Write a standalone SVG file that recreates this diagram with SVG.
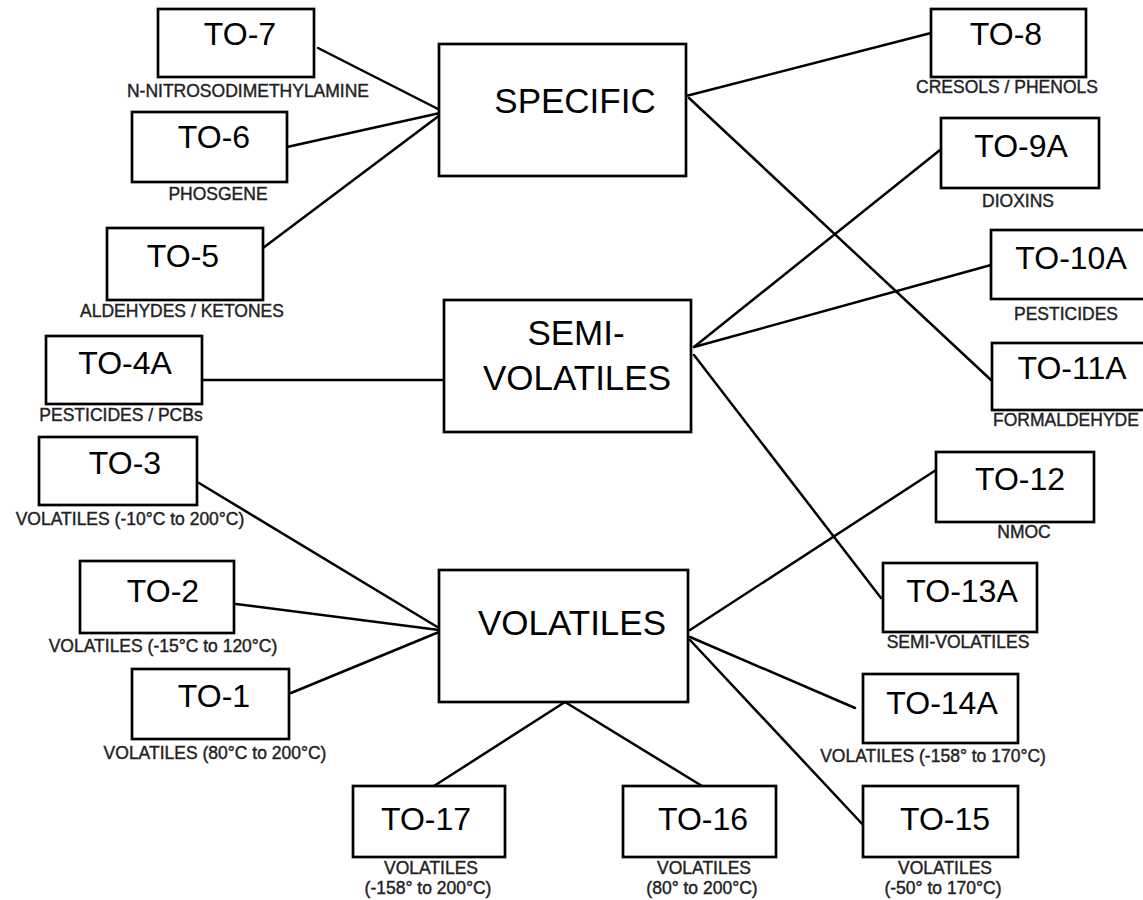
<svg xmlns="http://www.w3.org/2000/svg" width="1143" height="900" viewBox="0 0 1143 900">
<style>
.box{fill:#fff;stroke:#000;stroke-width:2.7}
.t{font-family:"Liberation Sans",Arial,sans-serif;font-size:32px;fill:#000;text-anchor:middle}
.m{font-family:"Liberation Sans",Arial,sans-serif;font-size:35px;fill:#000;text-anchor:middle}
.l{font-family:"Liberation Sans",Arial,sans-serif;font-size:17.5px;fill:#222;stroke:#222;stroke-width:0.4;text-anchor:middle}
#connectors line{stroke:#000;stroke-width:2.5;stroke-linecap:round}
</style>
<rect width="1143" height="900" fill="#fff"/>
<g id="connectors">
<line x1="318" y1="48" x2="440" y2="110"/>
<line x1="287" y1="147" x2="440" y2="113"/>
<line x1="263" y1="248" x2="440" y2="115"/>
<line x1="686" y1="96" x2="931" y2="33"/>
<line x1="689" y1="98" x2="991" y2="380"/>
<line x1="694" y1="347" x2="940" y2="150"/>
<line x1="694" y1="347" x2="991" y2="265"/>
<line x1="694" y1="355" x2="881" y2="598"/>
<line x1="203" y1="380" x2="443" y2="380"/>
<line x1="199" y1="483" x2="439" y2="628"/>
<line x1="236" y1="604" x2="439" y2="630"/>
<line x1="291" y1="693" x2="439" y2="632"/>
<line x1="690" y1="630" x2="936" y2="470"/>
<line x1="690" y1="637" x2="855" y2="708"/>
<line x1="690" y1="640" x2="865" y2="827"/>
<line x1="565" y1="702" x2="434" y2="786"/>
<line x1="565" y1="702" x2="702" y2="786"/>
</g>
<g id="specific"><rect class="box" x="439" y="44" width="247" height="132"/><text class="m" x="575" y="113">SPECIFIC</text></g>
<g id="semivolatiles"><rect class="box" x="444" y="300" width="247" height="132"/><text class="m" x="576" y="345">SEMI-</text><text class="m" x="577" y="390">VOLATILES</text></g>
<g id="volatiles"><rect class="box" x="439" y="570" width="249" height="132"/><text class="m" x="572" y="635">VOLATILES</text></g>
<g id="to7"><rect class="box" x="158" y="9" width="156" height="68"/><text class="t" x="240" y="45">TO-7</text><text class="l" x="248" y="97">N-NITROSODIMETHYLAMINE</text></g>
<g id="to6"><rect class="box" x="132" y="112" width="155" height="70"/><text class="t" x="214" y="148">TO-6</text><text class="l" x="218" y="200">PHOSGENE</text></g>
<g id="to5"><rect class="box" x="107" y="228" width="156" height="72"/><text class="t" x="183" y="267">TO-5</text><text class="l" x="182" y="317">ALDEHYDES / KETONES</text></g>
<g id="to4a"><rect class="box" x="46" y="336" width="156" height="68"/><text class="t" x="125" y="374">TO-4A</text><text class="l" x="121" y="421">PESTICIDES / PCBs</text></g>
<g id="to3"><rect class="box" x="39" y="437" width="158" height="68"/><text class="t" x="125" y="474">TO-3</text><text class="l" x="130" y="525">VOLATILES (-10°C to 200°C)</text></g>
<g id="to2"><rect class="box" x="80" y="561" width="154" height="72"/><text class="t" x="163" y="602">TO-2</text><text class="l" x="163" y="652">VOLATILES (-15°C to 120°C)</text></g>
<g id="to1"><rect class="box" x="132" y="669" width="157" height="70"/><text class="t" x="214" y="707">TO-1</text><text class="l" x="215" y="759">VOLATILES (80°C to 200°C)</text></g>
<g id="to8"><rect class="box" x="931" y="9" width="155" height="68"/><text class="t" x="1006" y="45">TO-8</text><text class="l" x="1007" y="93">CRESOLS / PHENOLS</text></g>
<g id="to9a"><rect class="box" x="941" y="118" width="158" height="70"/><text class="t" x="1021" y="157">TO-9A</text><text class="l" x="1018" y="207">DIOXINS</text></g>
<g id="to10a"><rect class="box" x="991" y="230" width="156" height="69"/><text class="t" x="1071" y="269">TO-10A</text><text class="l" x="1066" y="320">PESTICIDES</text></g>
<g id="to11a"><rect class="box" x="992" y="343" width="155" height="67"/><text class="t" x="1072" y="379">TO-11A</text><text class="l" x="1066" y="426">FORMALDEHYDE</text></g>
<g id="to12"><rect class="box" x="936" y="452" width="158" height="70"/><text class="t" x="1020" y="490">TO-12</text><text class="l" x="1024" y="538">NMOC</text></g>
<g id="to13a"><rect class="box" x="883" y="563" width="154" height="69"/><text class="t" x="962" y="602">TO-13A</text><text class="l" x="958" y="648">SEMI-VOLATILES</text></g>
<g id="to14a"><rect class="box" x="863" y="674" width="155" height="69"/><text class="t" x="942" y="714">TO-14A</text><text class="l" x="933" y="762">VOLATILES (-158° to 170°C)</text></g>
<g id="to15"><rect class="box" x="863" y="786" width="155" height="71"/><text class="t" x="945" y="830">TO-15</text><text class="l" x="945" y="874">VOLATILES</text><text class="l" x="943" y="894">(-50° to 170°C)</text></g>
<g id="to16"><rect class="box" x="623" y="786" width="153" height="71"/><text class="t" x="703" y="830">TO-16</text><text class="l" x="704" y="874">VOLATILES</text><text class="l" x="702" y="894">(80° to 200°C)</text></g>
<g id="to17"><rect class="box" x="353" y="786" width="152" height="71"/><text class="t" x="426" y="830">TO-17</text><text class="l" x="431" y="874">VOLATILES</text><text class="l" x="428" y="894">(-158° to 200°C)</text></g>
</svg>
